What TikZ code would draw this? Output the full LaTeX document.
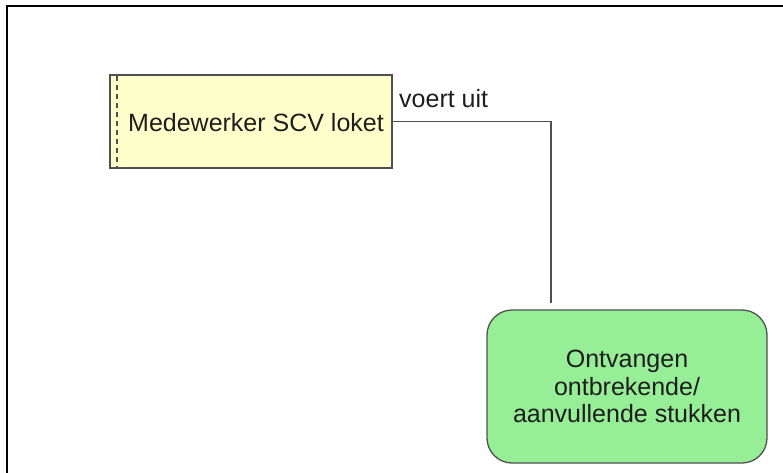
\documentclass[tikz,border=0pt]{standalone}
\usepackage{fontspec}
\setmainfont{Liberation Sans}
\definecolor{roleyellow}{RGB}{255,255,204}
\definecolor{processgreen}{RGB}{150,238,150}
\definecolor{edgegray}{RGB}{80,80,80}
\definecolor{inkcol}{RGB}{30,30,30}
\begin{document}
\begin{tikzpicture}[x=1pt,y=-1pt,
  every node/.style={font=\fontsize{25}{27.5}\selectfont, text=inkcol, inner sep=0pt},
  rolebox/.style={draw=edgegray, line width=1.3pt, fill=roleyellow, minimum width=282pt, minimum height=93pt},
  processbox/.style={draw=edgegray, line width=1.3pt, fill=processgreen, rounded corners=25pt,
    minimum width=280pt, minimum height=153pt, align=center},
  link/.style={draw=edgegray, line width=1.3pt},
  frameline/.style={draw=black, line width=2pt}]
  \useasboundingbox (0,0) rectangle (783,473);
  % outer frame (top and left edges)
  \draw[frameline] (7,473) -- (7,6) -- (783,6);
  % role
  \node[rolebox] (role) at (251,121.5) {};
  \draw[edgegray, line width=1.2pt, dashed, dash pattern=on 5pt off 4pt] (117,76) -- (117,167);
  \node[anchor=base] (roletext) at (256,132) {Medewerker SCV loket};
  % process
  \node[processbox] (proc) at (627,386.5) {Ontvangen\\ontbrekende/\\aanvullende stukken};
  % assignment relation
  \coordinate (procTop) at (551,303);
  \draw[link] (role.east) -| (procTop);
  \node[anchor=base west] (assignlabel) at (399,108) {voert uit};
\end{tikzpicture}
\end{document}
